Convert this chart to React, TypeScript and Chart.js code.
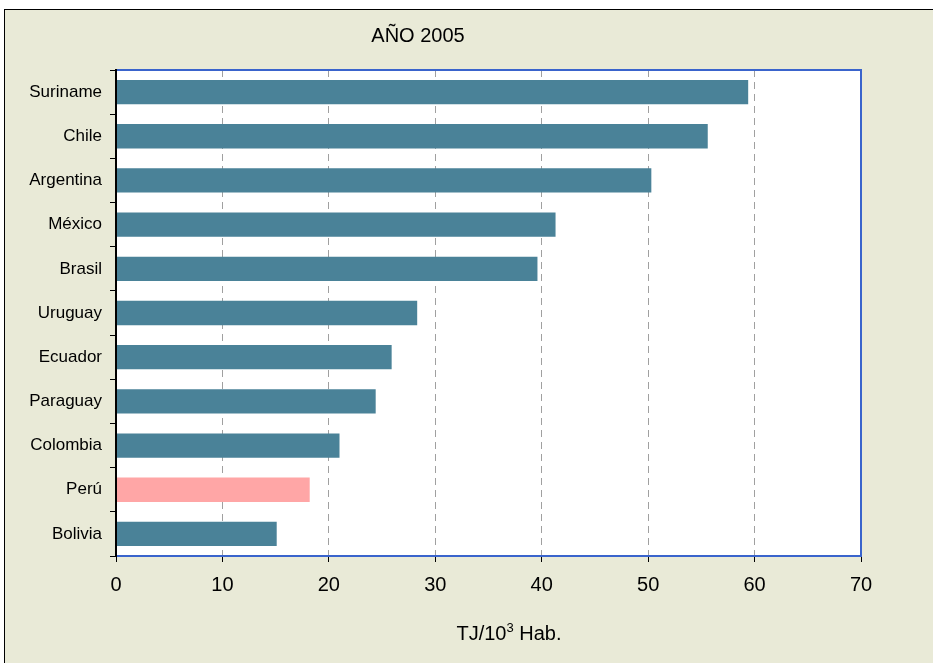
import React, { useEffect, useRef } from "react";
import { Chart, registerables } from "chart.js";

Chart.register(...registerables);

const categories = ["Suriname", "Chile", "Argentina", "México", "Brasil", "Uruguay", "Ecuador", "Paraguay", "Colombia", "Perú", "Bolivia"];
const values = [59.4, 55.6, 50.3, 41.3, 39.6, 28.3, 25.9, 24.4, 21.0, 18.2, 15.1];
const highlight = "Perú";
const xTicks = [0, 10, 20, 30, 40, 50, 60, 70];
const titleText = "AÑO 2005";
const axisTitleMain = "TJ/10";
const axisTitleSup = "3";
const axisTitleEnd = " Hab.";

const FONT = "Arial, 'Liberation Sans', sans-serif";
const BG = "#E9EAD7";
const BAR = "#4A8298";
const PINK = "#FFA6A6";
const BLUE = "#3A64CC";

export default function App() {
  const ref = useRef<HTMLCanvasElement | null>(null);

  useEffect(() => {
    document.body.style.margin = "0";
    const canvas = ref.current;
    if (!canvas) return;

    const deco = {
      id: "deco",
      beforeDraw(chart: any) {
        const ctx = chart.ctx;
        ctx.save();
        ctx.fillStyle = "#ffffff";
        ctx.fillRect(0, 0, chart.width, chart.height);
        ctx.fillStyle = BG;
        ctx.fillRect(4, 9, chart.width, chart.height);
        ctx.strokeStyle = "#000000";
        ctx.lineWidth = 1;
        ctx.strokeRect(4.5, 9.5, chart.width + 10, chart.height + 10);
        const a = chart.chartArea;
        ctx.fillStyle = "#ffffff";
        ctx.fillRect(a.left, a.top, a.right - a.left, a.bottom - a.top);
        ctx.restore();
      },
      afterDraw(chart: any) {
        const ctx = chart.ctx;
        const a = chart.chartArea;
        ctx.save();
        ctx.strokeStyle = BLUE;
        ctx.lineWidth = 2;
        ctx.strokeRect(a.left, a.top, a.right - a.left, a.bottom - a.top);
        ctx.strokeStyle = "#000000";
        ctx.lineWidth = 2;
        ctx.beginPath();
        ctx.moveTo(a.left, a.top - 1);
        ctx.lineTo(a.left, a.bottom + 1);
        ctx.stroke();
        // title
        ctx.fillStyle = "#000000";
        ctx.textBaseline = "alphabetic";
        ctx.textAlign = "center";
        ctx.font = `20px ${FONT}`;
        ctx.fillText(titleText, 418, 42);
        // axis title
        ctx.font = `20px ${FONT}`;
        const w1 = ctx.measureText(axisTitleMain).width;
        ctx.font = `13px ${FONT}`;
        const w2 = ctx.measureText(axisTitleSup).width;
        ctx.font = `20px ${FONT}`;
        const w3 = ctx.measureText(axisTitleEnd).width;
        const total = w1 + w2 + w3;
        let x = 509 - total / 2;
        ctx.textAlign = "left";
        ctx.fillText(axisTitleMain, x, 640);
        x += w1;
        ctx.font = `13px ${FONT}`;
        ctx.fillText(axisTitleSup, x, 632);
        x += w2;
        ctx.font = `20px ${FONT}`;
        ctx.fillText(axisTitleEnd, x, 640);
        ctx.restore();
      },
    };

    const chart = new Chart(canvas, {
      type: "bar",
      data: {
        labels: categories,
        datasets: [
          {
            data: values,
            backgroundColor: categories.map((c) => (c === highlight ? PINK : BAR)),
            borderWidth: 0,
            barPercentage: 0.55,
            categoryPercentage: 1,
          },
        ],
      },
      options: {
        indexAxis: "y",
        responsive: false,
        animation: false,
        devicePixelRatio: 1,
        layout: { padding: { left: 0, top: 70, right: 72, bottom: 0 } },
        plugins: {
          legend: { display: false },
          title: { display: false },
          tooltip: { enabled: false },
        },
        scales: {
          x: {
            type: "linear",
            min: 0,
            max: 70,
            afterBuildTicks: (s: any) => {
              s.ticks = xTicks.map((v) => ({ value: v }));
            },
            afterFit: (s: any) => {
              s.height = 107;
            },
            ticks: {
              color: "#000000",
              font: { family: FONT, size: 20 },
              padding: 11,
            },
            grid: {
              color: "#A0A0A0",
              lineWidth: 1,
              tickColor: "#000000",
              tickLength: 6,
              tickBorderDash: [],
            },
            border: { display: false, dash: [7, 5] },
          },
          y: {
            afterFit: (s: any) => {
              s.width = 116;
            },
            ticks: {
              color: "#000000",
              font: { family: FONT, size: 17 },
              padding: 8,
            },
            grid: {
              drawOnChartArea: false,
              color: "#000000",
              tickLength: 6,
              offset: true,
            },
            border: { display: true, color: "#000000", width: 2 },
          },
        },
      },
      plugins: [deco],
    } as any);

    return () => chart.destroy();
  }, []);

  return (
    <div style={{ width: 933, height: 663 }}>
      <canvas ref={ref} width={933} height={663} />
    </div>
  );
}
